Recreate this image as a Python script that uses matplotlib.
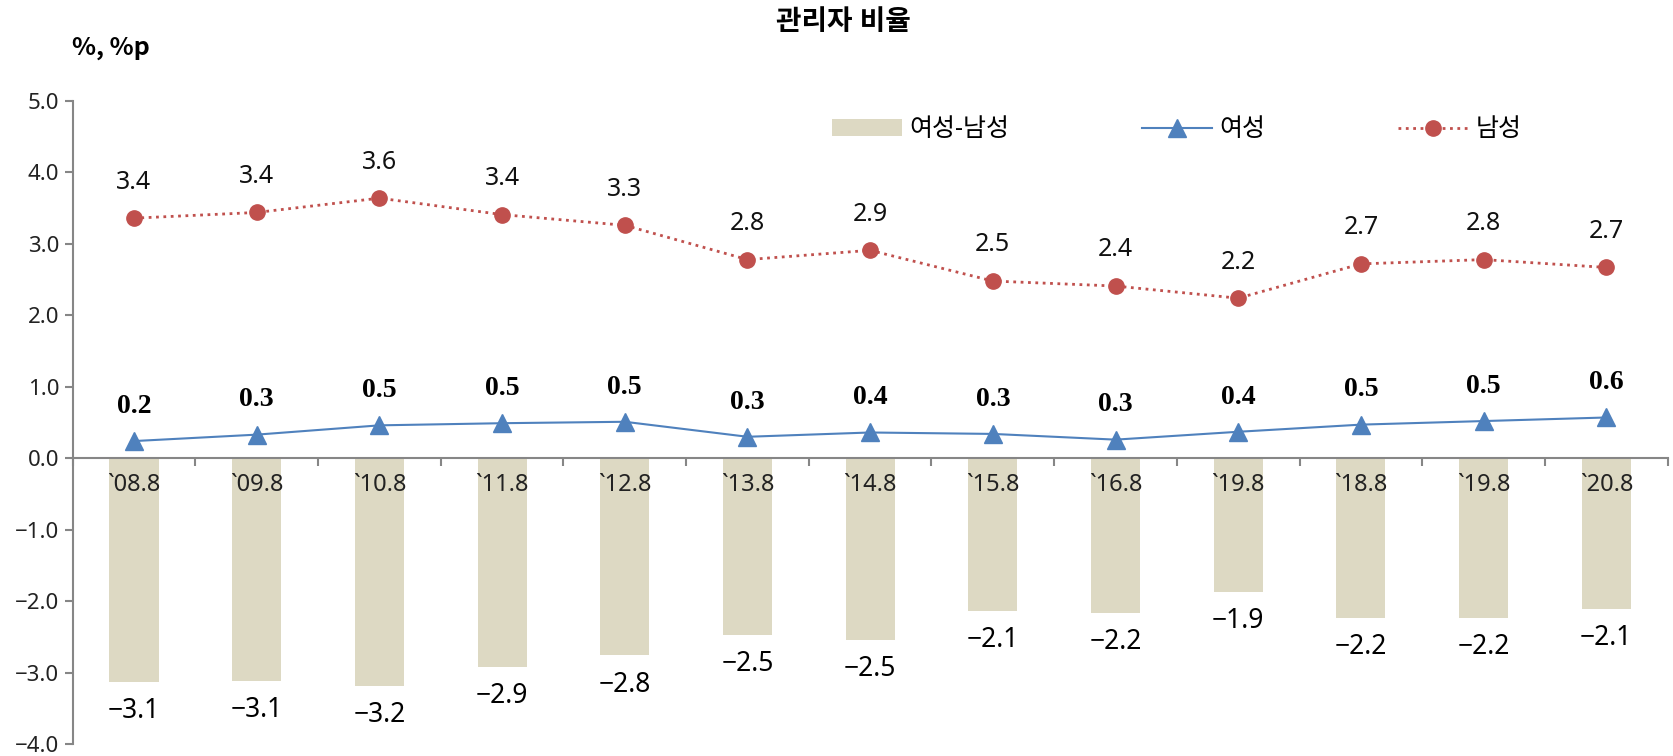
import matplotlib.pyplot as plt
import numpy as np
from matplotlib.ticker import FixedLocator

plt.rcParams['font.family'] = ['Noto Sans', 'Noto Sans CJK KR', 'DejaVu Sans']
plt.rcParams['axes.unicode_minus'] = True

# data
periods = ['`08.8', '`09.8', '`10.8', '`11.8', '`12.8', '`13.8', '`14.8',
           '`15.8', '`16.8', '`19.8', '`18.8', '`19.8', '`20.8']
gap = [-3.13, -3.12, -3.19, -2.92, -2.76, -2.47, -2.54, -2.14, -2.16, -1.87, -2.24, -2.24, -2.11]
women = [0.24, 0.33, 0.46, 0.49, 0.51, 0.30, 0.36, 0.34, 0.26, 0.37, 0.47, 0.52, 0.57]
men = [3.36, 3.44, 3.64, 3.41, 3.26, 2.78, 2.91, 2.48, 2.41, 2.24, 2.72, 2.78, 2.67]

bar_col = '#DDD9C3'
w_col = '#4F81BD'
m_col = '#C0504D'
axis_col = '#868686'


def fmt(v):
    return f'{v:.1f}'.replace('-', '\u2212')


x = np.arange(len(periods))

fig = plt.figure(figsize=(16.74, 7.56), dpi=100)
ax = fig.add_axes([0.0434, 0.0159, 0.9528, 0.8505])
ax.set_axisbelow(False)

bars = ax.bar(x, gap, width=0.4, color=bar_col, label='여성-남성', zorder=2)
ax.plot(x, women, color=w_col, lw=1.5, marker='^', ms=13, label='여성', zorder=3)
ax.plot(x, men, color=m_col, lw=2, ls=':', marker='o', ms=11, label='남성', zorder=3)

# data labels
for xi, v in zip(x, men):
    ax.annotate(fmt(v), (xi, v), xytext=(0, 26), textcoords='offset points',
                ha='center', va='center', fontsize=18, color='#111111')
for xi, v in zip(x, women):
    ax.annotate(fmt(v), (xi, v), xytext=(0, 25), textcoords='offset points',
                ha='center', va='center', fontsize=20, fontweight='bold',
                family='Liberation Serif', color='black')
for xi, v in zip(x, gap):
    ax.annotate(fmt(v), (xi, v), xytext=(0, -21), textcoords='offset points',
                ha='center', va='center', fontsize=19, color='black')

ax.set_xlim(-0.5, len(periods) - 0.5)
ax.set_ylim(-4, 5)
yt = np.arange(-4, 5.1, 1)
ax.set_yticks(yt)
ax.set_yticklabels([fmt(t) for t in yt])

ax.spines['top'].set_visible(False)
ax.spines['right'].set_visible(False)
ax.spines['bottom'].set_position(('data', 0))
ax.spines['left'].set_color(axis_col)
ax.spines['bottom'].set_color(axis_col)
ax.spines['left'].set_linewidth(1.5)
ax.spines['bottom'].set_linewidth(1.5)

ax.set_xticks(x)
ax.set_xticklabels(periods, fontsize=17, color='#222222')
ax.xaxis.set_minor_locator(FixedLocator(np.arange(-0.5, len(periods), 1)))
ax.tick_params(axis='x', which='major', length=0, pad=11)
ax.tick_params(axis='x', which='minor', length=6, color=axis_col, width=1.5)
ax.tick_params(axis='y', length=6, color=axis_col, width=1.5, labelsize=16, labelcolor='#222222')

fig.text(0.5036, 0.969, '관리자 비율', ha='center', va='center', fontsize=20, fontweight='bold')
fig.text(0.043, 0.937, '%, %p', ha='left', va='center', fontsize=18, fontweight='bold',
         family=['Noto Sans CJK KR', 'DejaVu Sans'])

h, l = ax.get_legend_handles_labels()
order = [l.index('여성-남성'), l.index('여성'), l.index('남성')]
ax.legend([h[i] for i in order], [l[i] for i in order],
          loc='center left', bbox_to_anchor=(0.462, 0.955), ncol=3, frameon=False,
          fontsize=18, handlelength=2.8, columnspacing=5.3, handletextpad=0.3)

fig.savefig('out.png', dpi=100)
